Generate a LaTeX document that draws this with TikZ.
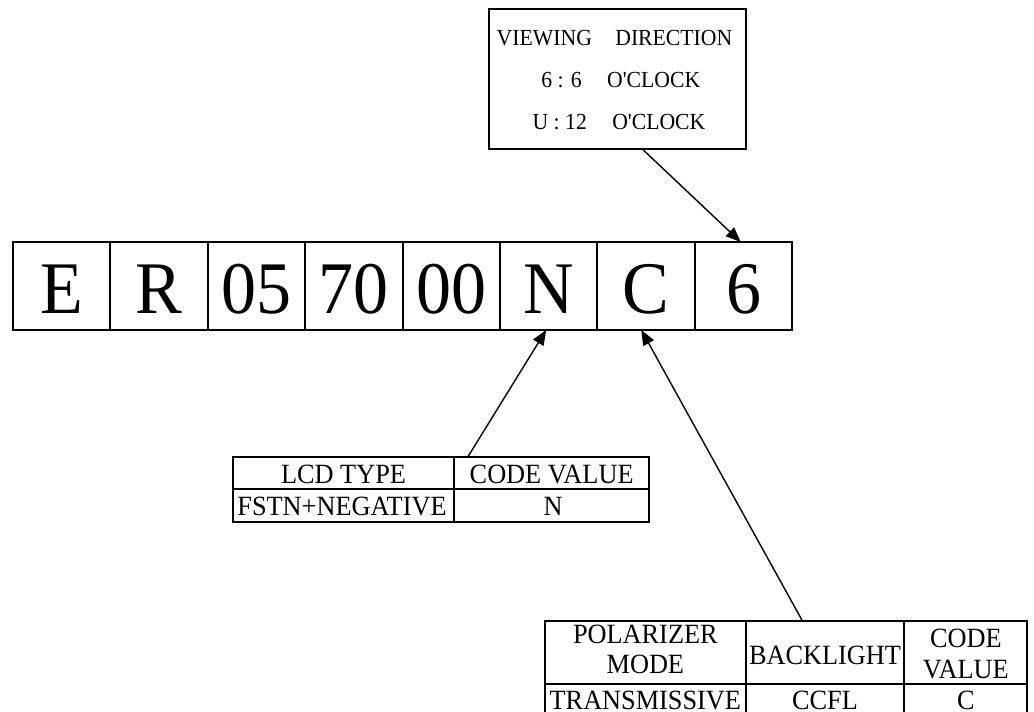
\documentclass[tikz,border=0pt]{standalone}
\usepackage{fontspec}
\setmainfont{Liberation Serif}
\usetikzlibrary{arrows.meta}
\newcommand\tallbox[1]{\scalebox{1}[1.06]{#1}}

\begin{document}
\begin{tikzpicture}[x=1pt,y=-1pt,
  frame/.style={draw,line width=1.9pt,inner sep=0pt,outer sep=0pt},
  cell/.style={frame,minimum width=97.4pt,minimum height=88pt},
  big/.style={anchor=base,inner sep=0pt,font=\fontsize{70}{80}\selectfont},
  mid/.style={anchor=base,inner sep=0pt,font=\fontsize{21.7}{26}\selectfont},
  txt/.style={anchor=base,inner sep=0pt,font=\fontsize{26.3}{30}\selectfont},
  pointer/.style={line width=1.4pt,-{Triangle[length=15pt,width=12pt]}}]

\useasboundingbox (0,0) rectangle (1034,712);

% code cells of the part number
\foreach \nm/\txt [count=\i from 0] in {cE/E,cR/R,cA/05,cB/70,cD/00,cN/N,cC/C,cS/6}{
  \node[cell] (\nm) at ({61.7+97.4*\i},286) {};
  \node[big] (\nm-t) at ({61.7+97.4*\i},313.3) {\tallbox{\txt}};
}

% viewing direction note
\node[frame,minimum width=257.3pt,minimum height=139.7pt] (view) at (617.35,78.85) {};
\node[mid] (view-a) at (614.5,45.7) {\tallbox{VIEWING\hspace{18pt} DIRECTION}};
\node[mid] (view-b) at (620.8,87.3) {\tallbox{6 : 6\hspace{20pt} O\textquotesingle CLOCK}};
\node[mid] (view-c) at (619,129.3) {\tallbox{U : 12\hspace{20pt} O\textquotesingle CLOCK}};

% LCD type table
\node[frame,minimum width=221.6pt,minimum height=32.3pt] (lcdA) at (343.5,472.85) {};
\node[frame,minimum width=194.7pt,minimum height=32.3pt] (lcdB) at (551.65,472.85) {};
\node[frame,minimum width=221.6pt,minimum height=32.7pt] (lcdC) at (343.5,505.35) {};
\node[frame,minimum width=194.7pt,minimum height=32.7pt] (lcdD) at (551.65,505.35) {};
\node[txt] (lcdA-t) at (343.5,483.3) {\tallbox{LCD TYPE}};
\node[txt] (lcdB-t) at (551.65,483.3) {\tallbox{CODE VALUE}};
\node[txt] (lcdC-t) at (342,515) {\tallbox{FSTN+NEGATIVE}};
\node[txt] (lcdD-t) at (553,515) {\tallbox{N}};

% polarizer / backlight table (its last row runs past the lower edge)
\node[frame,minimum width=200.7pt,minimum height=63.3pt] (blA) at (645.35,652.35) {};
\node[frame,minimum width=158.6pt,minimum height=63.3pt] (blB) at (825,652.35) {};
\node[frame,minimum width=123pt,minimum height=63.3pt] (blC) at (965.8,652.35) {};
\node[frame,minimum width=200.7pt,minimum height=33pt] (blD) at (645.35,700.5) {};
\node[frame,minimum width=158.6pt,minimum height=33pt] (blE) at (825,700.5) {};
\node[frame,minimum width=123pt,minimum height=33pt] (blF) at (965.8,700.5) {};
\node[txt] (blA-t1) at (645.35,643.3) {\tallbox{POLARIZER}};
\node[txt] (blA-t2) at (645.35,673.3) {\tallbox{MODE}};
\node[txt] (blB-t) at (825,664) {\tallbox{BACKLIGHT}};
\node[txt] (blC-t1) at (965.8,647.5) {\tallbox{CODE}};
\node[txt] (blC-t2) at (965.8,678) {\tallbox{VALUE}};
\node[txt,text depth=0pt] (blD-t) at (645.35,709.5) {\tallbox{TRANSMISSIVE}};
\node[txt,text depth=0pt] (blE-t) at (825,709.5) {\tallbox{CCFL}};
\node[txt,text depth=0pt] (blF-t) at (965.8,709.5) {\tallbox{C}};

% pointers from the notes to the code cells
\coordinate (viewfoot) at ([xshift=24.6pt]view.south);
\coordinate (lcdfoot) at ([xshift=-83.7pt]lcdB.north);
\coordinate (blfoot) at ([xshift=-22.7pt]blB.north);
\draw[pointer] (viewfoot) -- ([xshift=-2.8pt]cS.north);
\draw[pointer] (lcdfoot) -- ([xshift=-2.5pt]cN.south);
\draw[pointer] (blfoot) -- ([xshift=-4.8pt]cC.south);
\end{tikzpicture}
\end{document}
